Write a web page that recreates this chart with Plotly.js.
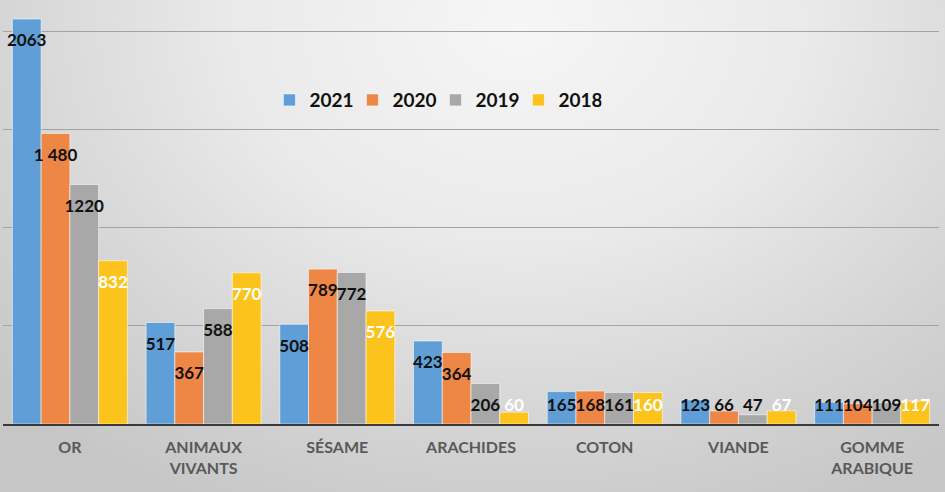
<!DOCTYPE html>
<html>
<head>
<meta charset="utf-8">
<script src="https://cdn.plot.ly/plotly-3.0.1.min.js"></script>
<style>
  html, body { margin: 0; padding: 0; }
  #chart {
    width: 945px; height: 492px;
    background: radial-gradient(ellipse 75% 110% at 55% 5%, #f6f6f6 0%, #eaeaea 40%, #d4d4d4 75%, #c6c6c6 100%);
  }
</style>
</head>
<body>
<div id="chart"></div>
<script>
const categories = ["OR", "ANIMAUX<br>VIVANTS", "SÉSAME", "ARACHIDES", "COTON", "VIANDE", "GOMME<br>ARABIQUE"];
const years = ["2021", "2020", "2019", "2018"];
const v2021 = [2063, 517, 508, 423, 165, 123, 111];
const v2020 = [1480, 367, 789, 364, 168, 66, 104];
const v2019 = [1220, 588, 772, 206, 161, 47, 109];
const v2018 = [832, 770, 576, 60, 160, 67, 117];
const labels2020 = ["1 480", "367", "789", "364", "168", "66", "104"];

const series = [v2021, v2020, v2019, v2018];
const colors = ["#5f9ed6", "#ee8646", "#a8a8a8", "#fcc31c"];
const textColors = ["#111111", "#111111", "#111111", "#ffffff"];
const GAP = 0.14;
const LABEL_OFFSET = 117;
const LABEL_MIN = 87;

const traces = [];
series.forEach((vals, i) => {
  traces.push({
    type: "bar",
    name: years[i],
    x: categories,
    y: vals,
    marker: { color: colors[i], line: { color: "rgba(255,255,255,0.55)", width: 1 } },
    hoverinfo: "skip"
  });
});
series.forEach((vals, i) => {
  traces.push({
    type: "scatter",
    mode: "text",
    x: categories,
    y: vals.map(v => Math.max(v - LABEL_OFFSET, LABEL_MIN)),
    text: i === 1 ? labels2020 : vals.map(String),
    textposition: "middle center",
    textfont: { family: "Lato, 'Open Sans', sans-serif", size: 17, color: textColors[i], weight: "bold" },
    showlegend: false,
    cliponaxis: false,
    hoverinfo: "skip"
  });
});

const layout = {
  width: 945,
  height: 492,
  margin: { l: 3, r: 6, t: 0, b: 68 },
  paper_bgcolor: "rgba(0,0,0,0)",
  plot_bgcolor: "rgba(0,0,0,0)",
  barmode: "group",
  bargap: GAP,
  bargroupgap: 0,
  scattermode: "group",
  scattergap: GAP,
  font: { family: "Lato, 'Open Sans', sans-serif" },
  xaxis: {
    type: "category",
    showline: true,
    linecolor: "#3a3a3a",
    linewidth: 2,
    ticks: "",
    ticklabelstandoff: 8,
    tickfont: { family: "Lato, 'Open Sans', sans-serif", size: 16, color: "#595959", weight: "bold" },
    showgrid: false
  },
  yaxis: {
    range: [0, 2160],
    dtick: 500,
    showticklabels: false,
    showgrid: true,
    gridcolor: "#a3a3a3",
    gridwidth: 1,
    zeroline: false,
    ticks: ""
  },
  legend: {
    orientation: "h",
    x: 0.462,
    xanchor: "center",
    y: 0.764,
    yanchor: "middle",
    bgcolor: "rgba(0,0,0,0)",
    font: { family: "Lato, 'Open Sans', sans-serif", size: 19, color: "#111111", weight: "bold" },
    itemwidth: 30,
    entrywidth: 38,
    entrywidthmode: "pixels",
    traceorder: "normal"
  },
  showlegend: true
};

Plotly.newPlot("chart", traces, layout, { displayModeBar: false, staticPlot: true });
</script>
</body>
</html>
